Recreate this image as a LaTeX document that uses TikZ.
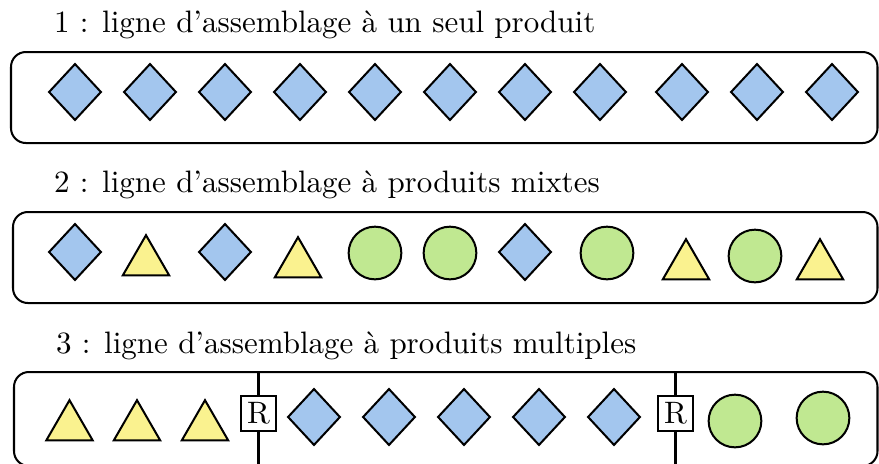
\documentclass[tikz,border=0pt]{standalone}
\usepackage{fontspec}
\usetikzlibrary{shapes.geometric}
\definecolor{dblue}{HTML}{A3C6EE}
\definecolor{tyellow}{HTML}{FAF28F}
\definecolor{cgreen}{HTML}{C0E891}
\tikzset{
  linebox/.style={draw, rounded corners=4.8pt},
  dia/.style={diamond, draw, fill=dblue, inner sep=0pt, minimum width=17.0pt, minimum height=18.3pt},
  tri/.style={regular polygon, regular polygon sides=3, draw, fill=tyellow, inner sep=0pt, minimum size=17.3pt},
  circ/.style={circle, draw, fill=cgreen, inner sep=0pt, minimum size=17.0pt},
  rbox/.style={rectangle, draw, fill=white, inner sep=0pt, minimum size=11.6pt, font=\normalsize},
  title/.style={anchor=base west, inner sep=0pt, font=\normalsize}
}
\begin{document}
\begin{tikzpicture}[x=0.3226pt,y=-0.3226pt,line width=0.65pt]
\useasboundingbox (0,0) rectangle (879,463);
\clip (0,0) rectangle (879,463);
% titles
\node[title] (t1) at (53,32) {1 : ligne d'assemblage à un seul produit};
\node[title] (t2) at (53,192) {2 : ligne d'assemblage à produits mixtes};
\node[title] (t3) at (55,353) {3 : ligne d'assemblage à produits multiples};
% boxes
\draw[linebox] (11,52) rectangle (877.5,143);
\draw[linebox] (13,212) rectangle (877.5,303);
\draw[linebox] (14,372) rectangle (877.5,466);
% row 1
\foreach \x [count=\i] in {75,150,225,300,375,450,525,600,682,757,832}
  \node[dia] (a\i) at (\x,92) {};
% row 2
\node[dia]  (b1)  at (75,252) {};
\node[tri]  (b2)  at (146,262) {};
\node[dia]  (b3)  at (225,252) {};
\node[tri]  (b4)  at (298,264) {};
\node[circ] (b5)  at (375,253) {};
\node[circ] (b6)  at (450,253) {};
\node[dia]  (b7)  at (525,252) {};
\node[circ] (b8)  at (607,253) {};
\node[tri]  (b9)  at (686,266) {};
\node[circ] (b10) at (755,256) {};
\node[tri]  (b11) at (820,266) {};
% row 3
\node[tri]  (c1) at (69.5,427) {};
\node[tri]  (c2) at (137,427) {};
\node[tri]  (c3) at (205,427) {};
\node[dia]  (c4) at (314,417) {};
\node[dia]  (c5) at (389,417) {};
\node[dia]  (c6) at (464,417) {};
\node[dia]  (c7) at (539,417) {};
\node[dia]  (c8) at (614,417) {};
\node[circ] (c9) at (735,421) {};
\node[circ] (c10) at (823,418) {};
% separators with R
\coordinate (top3) at (0,372);
\coordinate (bot3) at (0,470);
\node[rbox] (r1) at (258.5,413.5) {R};
\node[rbox] (r2) at (675.5,413.5) {R};
\draw (r1.north) -- (r1.north |- top3);
\draw (r1.south) -- (r1.south |- bot3);
\draw (r2.north) -- (r2.north |- top3);
\draw (r2.south) -- (r2.south |- bot3);
\end{tikzpicture}
\end{document}
